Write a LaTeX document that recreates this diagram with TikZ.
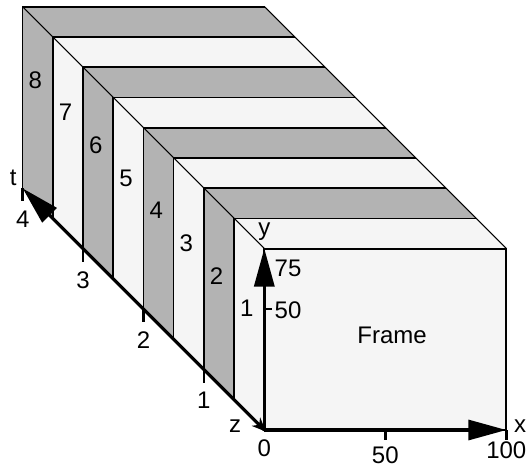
\documentclass[tikz,border=0pt]{standalone}
\usepackage{fontspec}
\setmainfont{Liberation Sans}
\usepackage{tikz}
\usetikzlibrary{arrows.meta}
\usetikzlibrary{positioning}

\definecolor{slabgray}{RGB}{179,179,179}
\definecolor{slablight}{RGB}{245,245,245}

\tikzset{
  axis/.style={line width=1.6pt, -{Triangle[length=19pt,width=10pt]}},
  axtick/.style={line width=1.4pt},
  slabedge/.style={line width=0.8pt},
  lbl/.style={inner sep=0pt, font=\fontsize{12}{14}\selectfont}
}

\begin{document}
\begin{tikzpicture}[x=1.21pt, y=1.21pt, z={(-15.1pt,15.1pt)}]
\useasboundingbox (-132.15pt,-18.5pt) rectangle (132.35pt,215pt);

  % slabs, back to front (left face + top face)
  \fill[slabgray]  (0,0,8) -- (0,75,8) -- (100,75,8) -- (100,75,7) -- (0,75,7) -- (0,0,7) -- cycle;
  \fill[slablight] (0,0,7) -- (0,75,7) -- (100,75,7) -- (100,75,6) -- (0,75,6) -- (0,0,6) -- cycle;
  \fill[slabgray]  (0,0,6) -- (0,75,6) -- (100,75,6) -- (100,75,5) -- (0,75,5) -- (0,0,5) -- cycle;
  \fill[slablight] (0,0,5) -- (0,75,5) -- (100,75,5) -- (100,75,4) -- (0,75,4) -- (0,0,4) -- cycle;
  \fill[slabgray]  (0,0,4) -- (0,75,4) -- (100,75,4) -- (100,75,3) -- (0,75,3) -- (0,0,3) -- cycle;
  \fill[slablight] (0,0,3) -- (0,75,3) -- (100,75,3) -- (100,75,2) -- (0,75,2) -- (0,0,2) -- cycle;
  \fill[slabgray]  (0,0,2) -- (0,75,2) -- (100,75,2) -- (100,75,1) -- (0,75,1) -- (0,0,1) -- cycle;
  \fill[slablight] (0,0,1) -- (0,75,1) -- (100,75,1) -- (100,75,0) -- (0,75,0) -- (0,0,0) -- cycle;

  \draw[slabedge]
  (0,0,8) -- (0,75,8) -- (100,75,8)
  (0,0,7) -- (0,75,7) -- (100,75,7)
  (0,0,6) -- (0,75,6) -- (100,75,6)
  (0,0,5) -- (0,75,5) -- (100,75,5)
  (0,0,4) -- (0,75,4) -- (100,75,4)
  (0,0,3) -- (0,75,3) -- (100,75,3)
  (0,0,2) -- (0,75,2) -- (100,75,2)
  (0,0,1) -- (0,75,1) -- (100,75,1);
  \draw[line width=0.5pt] (0,75,0) -- (0,75,8) (100,75,0) -- (100,75,8);

  % the frame itself
  \draw[line width=1pt, fill=slablight] (0,0,0) coordinate (O) rectangle (100,75,0) coordinate (F);
  \node[lbl] (frame) at (52.8,39.3) {Frame};

  % slab numbers
  \node[lbl] (s1) at (-1,44,0.5) {1};
  \node[lbl] (s2) at (-1,45,1.5) {2};
  \node[lbl] (s3) at (-1,46,2.5) {3};
  \node[lbl] (s4) at (-1,47,3.5) {4};
  \node[lbl] (s5) at (-1,48,4.5) {5};
  \node[lbl] (s6) at (-1,49,5.5) {6};
  \node[lbl] (s7) at (-1,50,6.5) {7};
  \node[lbl] (s8) at (-1,51,7.5) {8};

  % axes
  \draw[axis] (O) -- (100,0) coordinate (xend);
  \draw[axis] (O) -- (0,75) coordinate (yend);
  \draw[axis] (O) -- (0,0,8) coordinate (tend);
  \draw[-{Stealth[length=7pt,width=6pt]}, line width=0.8pt] (0,0,0.45) -- (0,0,-0.05);

  \node[lbl] (xlbl) at (105.7,1.4) {x};
  \node[lbl] (ylbl) at (0,81.8) {y};
  \node[lbl] (tlbl) at (-3.9,4.3,8) {t};
  \node[lbl] (zlbl) at (-12.1,1.4,0) {z};

  % ticks on x
  \draw[axtick] (50,0) -- ++(0,-5pt) (100,0) -- ++(0,-5pt);
  \node[lbl] (x0) at ([yshift=-9pt]O) {0};
  \node[lbl] (x50) at ([yshift=-12.5pt]50,0) {50};
  \node[lbl] (x100) at ([yshift=-10pt]100,0) {100};

  % ticks on y
  \draw[axtick] (0,50) -- ++(4pt,0);
  \node[lbl] (y50) at (9.8,49.6) {50};
  \node[lbl] (y75) at (9.8,66.9) {75};

  % ticks on t
  \draw[axtick]
  (0,0,2) -- ++(0,-6.5pt)
  (0,0,4) -- ++(0,-6.5pt)
  (0,0,6) -- ++(0,-6.5pt)
  (0,0,8) -- ++(0,-6.5pt);
  \node[lbl] (t1) at ([yshift=-15.5pt]0,0,2) {1};
  \node[lbl] (t2) at ([yshift=-15.5pt]0,0,4) {2};
  \node[lbl] (t3) at ([yshift=-15.5pt]0,0,6) {3};
  \node[lbl] (t4) at ([yshift=-15.5pt]0,0,8) {4};
\end{tikzpicture}
\end{document}
